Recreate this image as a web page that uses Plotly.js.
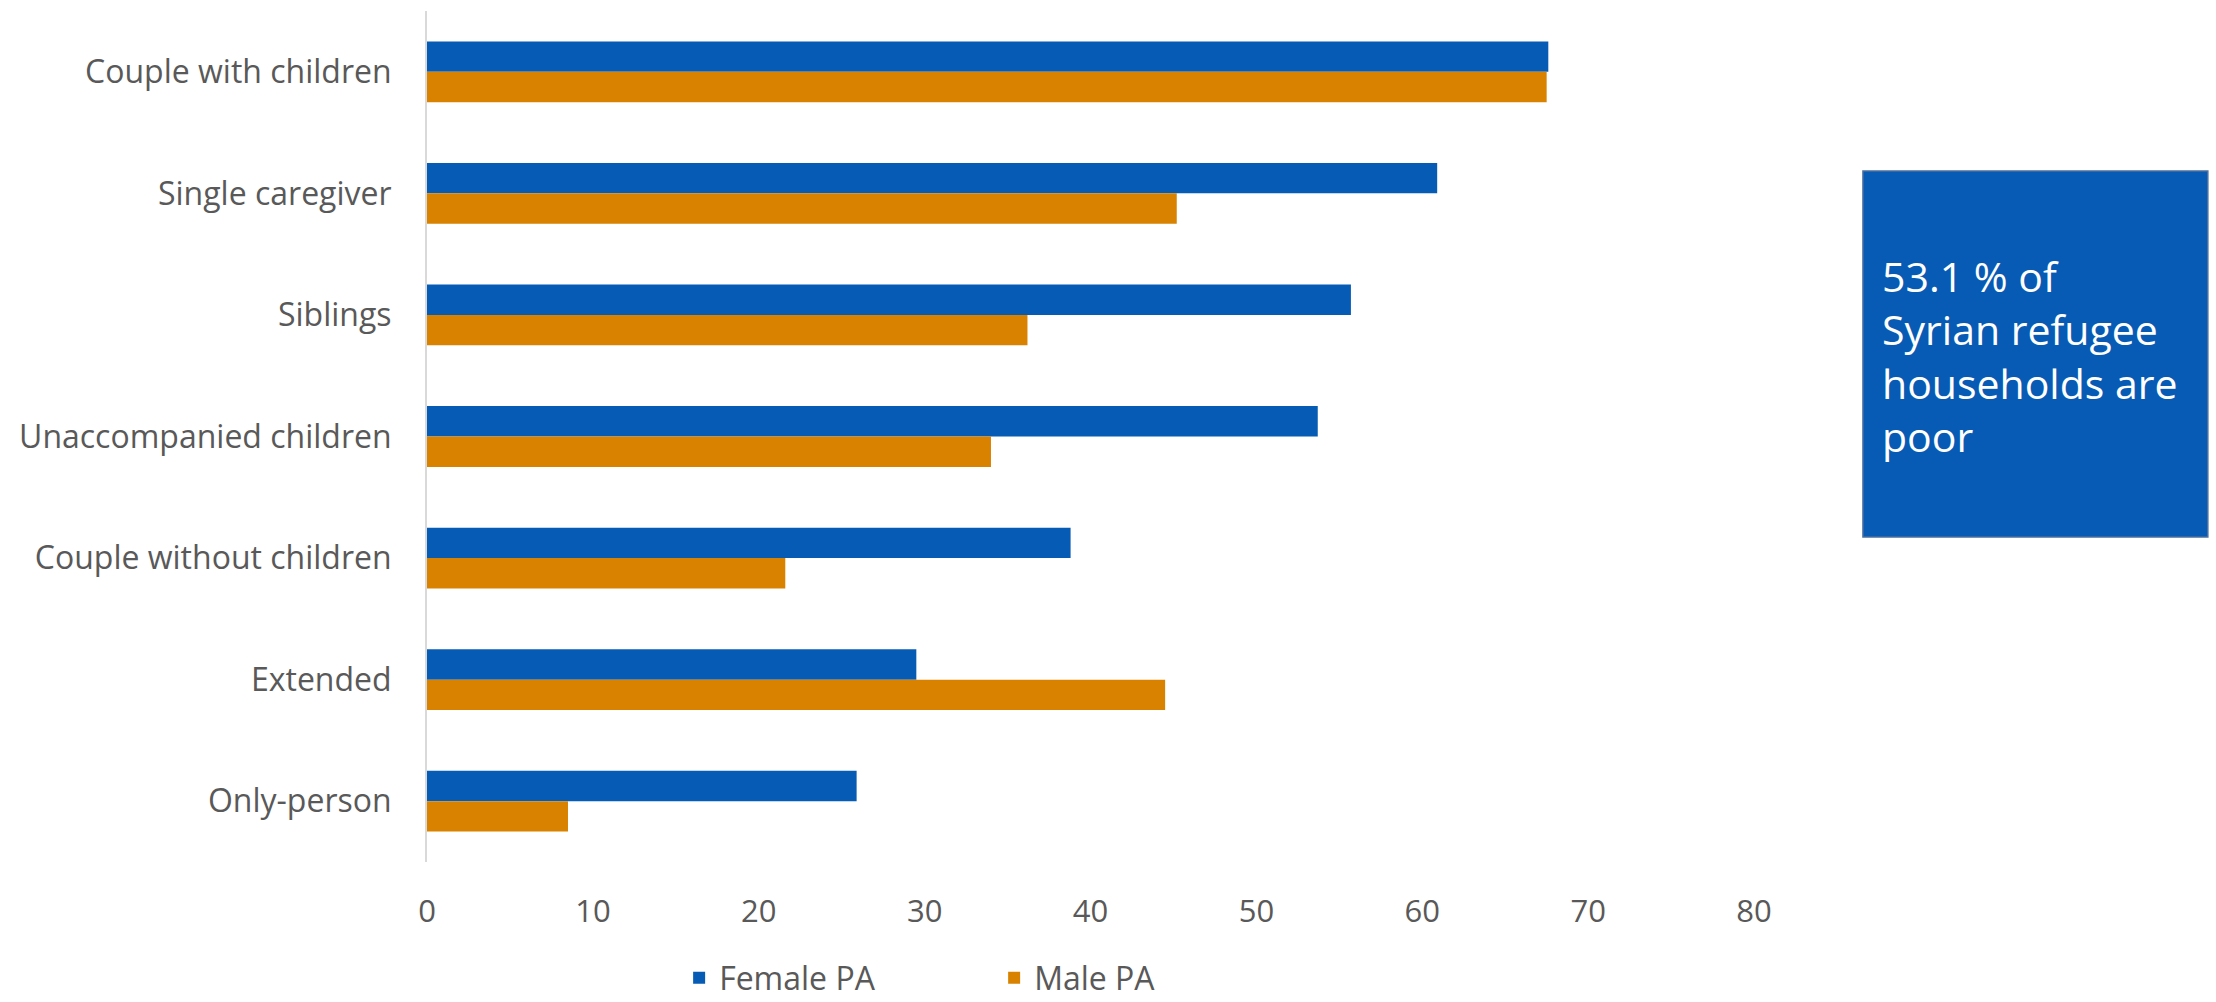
<!DOCTYPE html>
<html>
<head>
<meta charset="utf-8">
<script src="https://cdn.plot.ly/plotly-3.0.1.min.js"></script>
<style>html,body{margin:0;padding:0;background:#fff;}#chart{width:2216px;height:1002px;}</style>
</head>
<body>
<div id="chart"></div>
<script>
const categories = ["Couple with children","Single caregiver","Siblings","Unaccompanied children","Couple without children","Extended","Only-person"];
const femalePA = [67.6, 60.9, 55.7, 53.7, 38.8, 29.5, 25.9];
const malePA = [67.5, 45.2, 36.2, 34.0, 21.6, 44.5, 8.5];
const seriesNames = ["Female PA","Male PA"];
const xTicks = [0,10,20,30,40,50,60,70,80];
const boxText = "53.1 % of<br>Syrian refugee<br>households are<br>poor";

const FONT = "Open Sans, sans-serif";
const traces = [
  {type:"bar", orientation:"h", name:seriesNames[0], y:categories, x:femalePA,
   marker:{color:"#065BB5"}},
  {type:"bar", orientation:"h", name:seriesNames[1], y:categories, x:malePA,
   marker:{color:"#D98200"}}
];
const layout = {
  width:2216, height:1002,
  margin:{l:427, r:462, t:11, b:140, pad:0},
  paper_bgcolor:"#fff", plot_bgcolor:"#fff",
  barmode:"group", bargap:0.5, bargroupgap:0,
  font:{family:FONT, color:"#595959", size:32},
  xaxis:{range:[0,80], tickvals:xTicks, ticktext:xTicks.map(String), showgrid:false, zeroline:false,
         showline:false, ticks:"", ticklabelstandoff:28, tickfont:{size:31, color:"#595959", family:FONT}},
  yaxis:{autorange:"reversed", showgrid:false, zeroline:false, showline:true, linecolor:"#D9D9D9", linewidth:2,
         ticks:"", ticklabelstandoff:27, tickfont:{size:32, color:"#595959", family:FONT}},
  showlegend:true,
  legend:{orientation:"h", xref:"paper", x:0.19, xanchor:"left", yref:"container", y:0.024, yanchor:"middle",
          font:{size:32, color:"#595959", family:FONT}, entrywidth:270, entrywidthmode:"pixels", traceorder:"normal"},
  shapes:[{type:"rect", xref:"paper", yref:"paper", x0:1.0821, x1:1.342, y0:0.382, y1:0.812,
           fillcolor:"#075BB4", line:{color:"#4A6FA0", width:1.5}, layer:"above"}],
  annotations:[{xref:"paper", yref:"paper", x:1.095, y:0.595, xanchor:"left", yanchor:"middle", align:"left",
                showarrow:false, text:boxText, font:{size:41, color:"#FFFFFF", family:FONT}}]
};
Plotly.newPlot("chart", traces, layout, {displayModeBar:false, responsive:false});
</script>
</body>
</html>
